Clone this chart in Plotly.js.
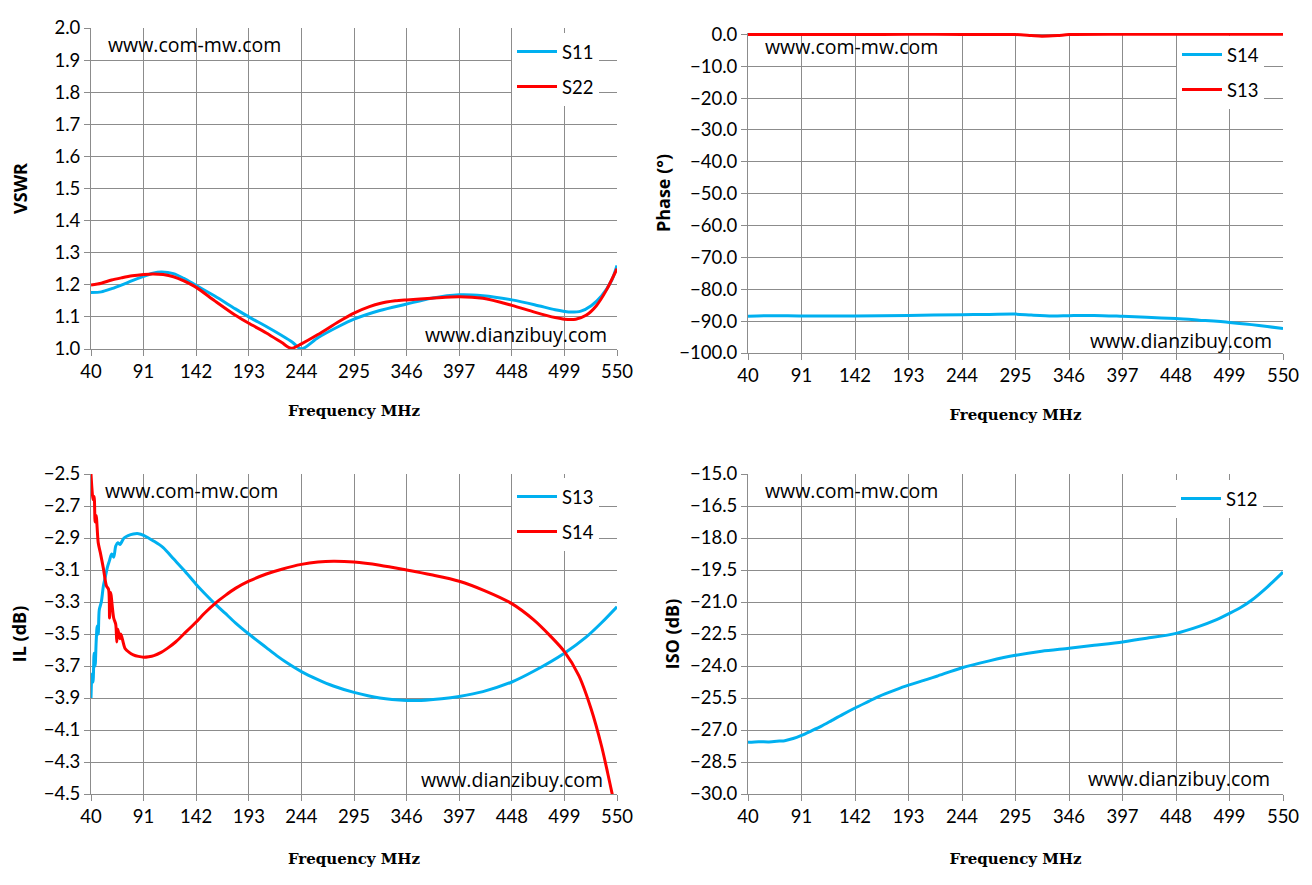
<!DOCTYPE html>
<html><head><meta charset="utf-8">
<script src="https://cdn.plot.ly/plotly-3.0.1.min.js"></script>
<style>html,body{margin:0;padding:0;background:#fff}#chart{width:1312px;height:885px}</style>
</head><body><div id="chart"></div>
<script>
// ---------- data ----------
const freqTicks = [40,91,142,193,244,295,346,397,448,499,550];

// VSWR
const vswrS11Freq = [40,50,60,70,80,91,100,108,120,130,142,160,180,193,210,225,235,244,260,280,295,320,346,370,397,420,448,470,490,499,505,515,525,535,545,550];
const vswrS11 = [1.176,1.178,1.188,1.200,1.213,1.226,1.236,1.240,1.235,1.220,1.198,1.165,1.125,1.100,1.070,1.042,1.022,1.000,1.035,1.070,1.093,1.120,1.140,1.158,1.169,1.166,1.153,1.138,1.122,1.117,1.115,1.118,1.135,1.165,1.215,1.260];
const vswrS22Freq = [40,50,60,70,80,91,100,110,120,130,142,160,180,193,210,225,234,244,260,280,295,310,320,335,346,370,397,420,448,470,490,499,510,520,530,540,550];
const vswrS22 = [1.199,1.205,1.215,1.222,1.228,1.232,1.234,1.232,1.225,1.212,1.192,1.150,1.105,1.080,1.050,1.020,1.002,1.016,1.045,1.085,1.112,1.132,1.142,1.150,1.153,1.158,1.163,1.158,1.136,1.115,1.098,1.093,1.093,1.105,1.135,1.185,1.250];

// Phase
const phaseS14Freq = [40,60,91,142,193,244,270,295,310,330,346,370,397,420,448,470,499,520,535,550];
const phaseS14 = [-88.5,-88.3,-88.4,-88.4,-88.2,-88.0,-87.9,-87.8,-88.1,-88.4,-88.3,-88.2,-88.5,-88.8,-89.2,-89.7,-90.4,-91.1,-91.7,-92.3];
const phaseS13Freq = [40,91,142,193,244,295,310,320,335,346,397,448,499,550];
const phaseS13 = [-0.1,-0.1,-0.1,0,-0.05,-0.1,-0.4,-0.6,-0.4,-0.1,0,0,0,0];

// IL
const ilS13Freq = [40,41,42,43,44,45,46,47,48,50,52,54,56,58,60,62,64,66,68,72,76,81,86,91,101,110,120,130,142,150,160,170,180,193,210,220,230,244,260,275,295,320,346,360,380,397,420,448,470,499,520,535,550];
const ilS13 = [-3.90,-3.75,-3.80,-3.62,-3.70,-3.55,-3.45,-3.50,-3.35,-3.30,-3.20,-3.14,-3.08,-3.04,-3.00,-3.02,-2.95,-2.93,-2.94,-2.90,-2.885,-2.875,-2.873,-2.883,-2.92,-2.96,-3.03,-3.10,-3.19,-3.245,-3.31,-3.37,-3.43,-3.50,-3.585,-3.635,-3.68,-3.735,-3.785,-3.825,-3.865,-3.90,-3.915,-3.915,-3.905,-3.89,-3.86,-3.80,-3.73,-3.62,-3.52,-3.43,-3.33];
const ilS14Freq = [40,41,42,43,44,45,47,49,52,55,57,58,59,62,64,65,66,68,69,73,77,81,86,91,96,101,108,114,122,130,142,150,161,170,180,193,210,225,244,260,275,295,320,346,370,397,422,448,469,485,499,513,525,535,541,547];
const ilS14 = [-2.50,-2.60,-2.66,-2.64,-2.80,-2.76,-2.93,-2.99,-3.09,-3.20,-3.22,-3.40,-3.24,-3.40,-3.44,-3.55,-3.47,-3.53,-3.50,-3.59,-3.615,-3.63,-3.64,-3.645,-3.642,-3.635,-3.615,-3.59,-3.55,-3.50,-3.425,-3.37,-3.305,-3.26,-3.215,-3.17,-3.125,-3.095,-3.065,-3.05,-3.045,-3.05,-3.07,-3.10,-3.13,-3.17,-3.23,-3.31,-3.41,-3.51,-3.61,-3.76,-3.97,-4.20,-4.37,-4.55];

// ISO
const isoS12Freq = [40,50,60,70,75,83,91,100,110,120,130,142,155,165,180,193,210,220,244,270,295,320,346,370,397,420,448,470,485,499,510,520,535,550];
const isoS12 = [-27.58,-27.55,-27.56,-27.52,-27.50,-27.40,-27.25,-27.05,-26.82,-26.55,-26.28,-25.97,-25.66,-25.42,-25.13,-24.90,-24.64,-24.48,-24.08,-23.76,-23.50,-23.31,-23.17,-23.03,-22.87,-22.70,-22.47,-22.14,-21.86,-21.53,-21.25,-20.92,-20.30,-19.60];

// ---------- style ----------
const BLUE = '#00B0F0', RED = '#FF0000', GRID = '#8c8c8c';
const W = 1312, H = 885;
const tickFont = {family: 'Lato, "Open Sans", sans-serif', size: 18.5, color: '#000'};
const markFont = {family: '"Open Sans", sans-serif', size: 19.5, color: '#000'};
const xTitleFont = {family: '"DejaVu Serif", serif', size: 15, color: '#000', weight: 'bold'};
const yTitleFont = {family: '"Open Sans", sans-serif', size: 18, color: '#000', weight: 'bold'};

function line(x, y, name, color, xa, ya, leg, grp) {
  return {x, y, name, type: 'scatter', mode: 'lines', xaxis: xa, yaxis: ya,
    legend: leg, legendgroup: grp, line: {color, width: 3, shape: 'spline', smoothing: 0.8}, hoverinfo: 'skip'};
}
const traces = [
  line(vswrS11Freq, vswrS11, 'S11', BLUE, 'x', 'y', 'legend', 'a1'),
  line(vswrS22Freq, vswrS22, 'S22', RED, 'x', 'y', 'legend', 'a2'),
  line(phaseS14Freq, phaseS14, 'S14', BLUE, 'x2', 'y2', 'legend2', 'b1'),
  line(phaseS13Freq, phaseS13, 'S13', RED, 'x2', 'y2', 'legend2', 'b2'),
  line(ilS13Freq, ilS13, 'S13', BLUE, 'x3', 'y3', 'legend3', 'c1'),
  line(ilS14Freq, ilS14, 'S14', RED, 'x3', 'y3', 'legend3', 'c2'),
  line(isoS12Freq, isoS12, 'S12', BLUE, 'x4', 'y4', 'legend4', 'd1')
];

function px(v){return v/W;}
function py(v){return 1 - v/H;}

function xAxis(l, r, anchor, standoff) {
  return {domain: [px(l), px(r)], anchor, range: [40, 550], tickvals: freqTicks,
    showgrid: true, gridcolor: GRID, gridwidth: 1, showline: true, linecolor: GRID, linewidth: 1,
    mirror: false, ticks: 'outside', ticklen: 6, tickcolor: GRID, tickfont: tickFont, zeroline: false,
    title: {text: 'Frequency MHz', font: xTitleFont, standoff}, automargin: false, fixedrange: true};
}
function yAxis(t, b, anchor, range, dtick, title, standoff) {
  return {domain: [py(b), py(t)], anchor, range, dtick, tick0: range[0], tickformat: '.1f',
    showgrid: true, gridcolor: GRID, gridwidth: 1, showline: true, linecolor: GRID, linewidth: 1,
    ticks: 'outside', ticklen: 6, tickcolor: GRID, tickfont: tickFont, zeroline: false,
    title: {text: title, font: yTitleFont, standoff}, automargin: false, fixedrange: true};
}
function legendAt(x, y) {
  return {x: px(x), y: py(y), xanchor: 'left', yanchor: 'top', bgcolor: '#fff', borderwidth: 0,
    font: {family: 'Lato, sans-serif', size: 18.5, color: '#000'}, traceorder: 'grouped',
    tracegroupgap: 8, itemwidth: 40};
}
function mark(text, x, y) {
  return {text, x: px(x), y: py(y), xref: 'paper', yref: 'paper', xanchor: 'left', yanchor: 'middle',
    showarrow: false, font: markFont};
}

const layout = {
  width: W, height: H, margin: {l: 0, r: 0, t: 0, b: 0},
  paper_bgcolor: '#fff', plot_bgcolor: '#fff', showlegend: true,
  xaxis: xAxis(91, 617, 'y', 24),
  yaxis: yAxis(28, 349, 'x', [1, 2], 0.1, 'VSWR', 22),
  xaxis2: xAxis(748, 1283, 'y2', 24),
  yaxis2: yAxis(33, 353, 'x2', [-100, 0.4], 10, 'Phase (°)', 3),
  xaxis3: xAxis(91, 617, 'y3', 27),
  yaxis3: yAxis(474, 794, 'x3', [-4.5, -2.5], 0.2, 'IL (dB)', 12),
  xaxis4: xAxis(748, 1283, 'y4', 27),
  yaxis4: yAxis(474, 794, 'x4', [-30, -15], 1.5, 'ISO (dB)', 5),
  legend: legendAt(512, 33),
  legend2: legendAt(1177, 36),
  legend3: legendAt(512, 478),
  legend4: legendAt(1176, 480),
  annotations: [
    mark('www.com-mw.com', 106, 45),
    mark('www.dianzibuy.com', 423, 335),
    mark('www.com-mw.com', 763, 47),
    mark('www.dianzibuy.com', 1088, 340),
    mark('www.com-mw.com', 103, 490),
    mark('www.dianzibuy.com', 419, 779),
    mark('www.com-mw.com', 763, 491),
    mark('www.dianzibuy.com', 1086, 778)
  ]
};
Plotly.newPlot('chart', traces, layout, {staticPlot: true, displayModeBar: false});
</script></body></html>
